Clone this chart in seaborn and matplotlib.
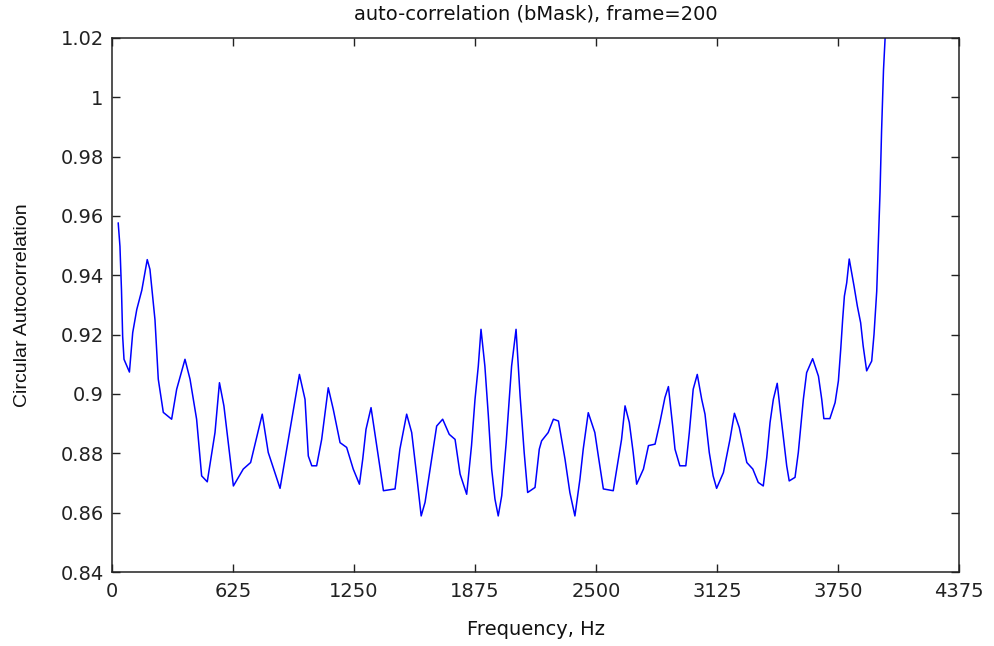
import matplotlib
matplotlib.use("Agg")
import matplotlib.pyplot as plt
from matplotlib import font_manager
import seaborn as sns
import pandas as pd
from matplotlib.ticker import FuncFormatter

# Data (frequency in Hz, circular autocorrelation)
freq_hz = [32, 41, 49, 55, 62, 90, 107, 128, 154, 182, 196, 222, 239, 265, 308, 334,
           377, 403, 437, 463, 492, 532, 555, 578, 627, 678, 716, 776, 807, 868, 911,
           968, 997, 1014, 1032, 1057, 1083, 1117, 1143, 1178, 1212, 1246, 1278, 1295,
           1312, 1338, 1367, 1402, 1462, 1487, 1522, 1548, 1574, 1597, 1617, 1643,
           1677, 1708, 1742, 1772, 1798, 1832, 1857, 1875, 1892, 1906, 1926, 1944,
           1961, 1978, 1995, 2013, 2036, 2064, 2087, 2108, 2129, 2147, 2185, 2207,
           2219, 2253, 2280, 2306, 2340, 2365, 2391, 2417, 2434, 2460, 2494, 2512,
           2538, 2589, 2610, 2632, 2650, 2672, 2692, 2710, 2745, 2771, 2805, 2830,
           2856, 2874, 2896, 2908, 2933, 2964, 2982, 3002, 3023, 3046, 3063, 3085,
           3105, 3123, 3158, 3192, 3215, 3240, 3279, 3310, 3338, 3364, 3382, 3399,
           3416, 3436, 3451, 3467, 3485, 3498, 3528, 3545, 3571, 3588, 3619, 3649,
           3666, 3677, 3708, 3735, 3752, 3764, 3774, 3783, 3795, 3808, 3833, 3850,
           3867, 3880, 3898, 3924, 3936, 3950, 3958, 3967, 3975, 3985, 3993, 4001]
autocorr = [0.9577, 0.9498, 0.9350, 0.9195, 0.9117, 0.9074, 0.9207, 0.9285, 0.9350,
            0.9453, 0.9420, 0.9250, 0.9050, 0.8938, 0.8915, 0.9016, 0.9117, 0.9050,
            0.8915, 0.8724, 0.8704, 0.8870, 0.9038, 0.8960, 0.8690, 0.8747, 0.8769,
            0.8932, 0.8803, 0.8682, 0.8847, 0.9066, 0.8982, 0.8791, 0.8758, 0.8758,
            0.8847, 0.9021, 0.8948, 0.8836, 0.8820, 0.8747, 0.8696, 0.8780, 0.8881,
            0.8954, 0.8826, 0.8674, 0.8680, 0.8814, 0.8932, 0.8870, 0.8724, 0.8589,
            0.8635, 0.8747, 0.8892, 0.8915, 0.8864, 0.8847, 0.8730, 0.8662, 0.8826,
            0.8982, 0.9094, 0.9218, 0.9094, 0.8926, 0.8747, 0.8646, 0.8589, 0.8657,
            0.8836, 0.9094, 0.9218, 0.8993, 0.8803, 0.8668, 0.8685, 0.8814, 0.8842,
            0.8870, 0.8915, 0.8909, 0.8780, 0.8668, 0.8589, 0.8713, 0.8814, 0.8937,
            0.8870, 0.8791, 0.8680, 0.8674, 0.8758, 0.8847, 0.8960, 0.8904, 0.8803,
            0.8696, 0.8747, 0.8826, 0.8831, 0.8904, 0.8988, 0.9025, 0.8892, 0.8814,
            0.8758, 0.8758, 0.8870, 0.9016, 0.9066, 0.8982, 0.8932, 0.8803, 0.8724,
            0.8682, 0.8735, 0.8847, 0.8935, 0.8887, 0.8769, 0.8747, 0.8702, 0.8690,
            0.8786, 0.8904, 0.8982, 0.9036, 0.8948, 0.8859, 0.8758, 0.8707, 0.8719,
            0.8803, 0.8982, 0.9072, 0.9119, 0.9060, 0.8982, 0.8917, 0.8917, 0.8971,
            0.9044, 0.9150, 0.9251, 0.9330, 0.9375, 0.9455, 0.9363, 0.9296, 0.9240,
            0.9162, 0.9078, 0.9111, 0.9201, 0.9346, 0.9498, 0.9678, 0.9885, 1.0092,
            1.0193, 1.0300]

x_ticks = [0, 625, 1250, 1875, 2500, 3125, 3750, 4375]
y_ticks = [0.84, 0.86, 0.88, 0.90, 0.92, 0.94, 0.96, 0.98, 1.00, 1.02]

sns.set_style("white")
plt.rcParams['font.family'] = ['DejaVu Sans']

try:
    font_manager.findfont('Liberation Sans Narrow', fallback_to_default=False)
    ylab_family, ylab_size = ['Liberation Sans Narrow', 'DejaVu Sans'], 16
except Exception:
    ylab_family, ylab_size = ['Liberation Sans', 'DejaVu Sans'], 14

df = pd.DataFrame({"freq": freq_hz, "ac": autocorr})

fig = plt.figure(figsize=(9.94, 6.46), dpi=100)
ax = fig.add_axes([0.11268, 0.11455, 0.85211, 0.82663])

sns.lineplot(data=df, x="freq", y="ac", ax=ax, color="#0000ff", linewidth=1.1,
             sort=False, estimator=None)

ax.set_xlim(0, 4375)
ax.set_ylim(0.84, 1.02)
ax.set_xticks(x_ticks)
ax.set_yticks(y_ticks)
ax.yaxis.set_major_formatter(FuncFormatter(lambda v, p: f"{v:g}"))
ax.tick_params(direction="in", length=6, width=1, labelsize=14, colors="#222222",
               top=True, right=True, bottom=True, left=True)
ax.tick_params(axis="x", pad=7)
ax.tick_params(axis="y", pad=6)
for s in ax.spines.values():
    s.set_visible(True)
    s.set_color("#222222")
    s.set_linewidth(1.1)

ax.set_title("auto-correlation (bMask), frame=200", fontsize=14, pad=13, color="#111111")
ax.set_xlabel("Frequency, Hz", fontsize=14, labelpad=14, color="#111111")
ax.set_ylabel("Circular Autocorrelation", fontsize=ylab_size, labelpad=21,
              family=ylab_family, color="#111111")

fig.savefig("out.png", dpi=100, facecolor="white")
